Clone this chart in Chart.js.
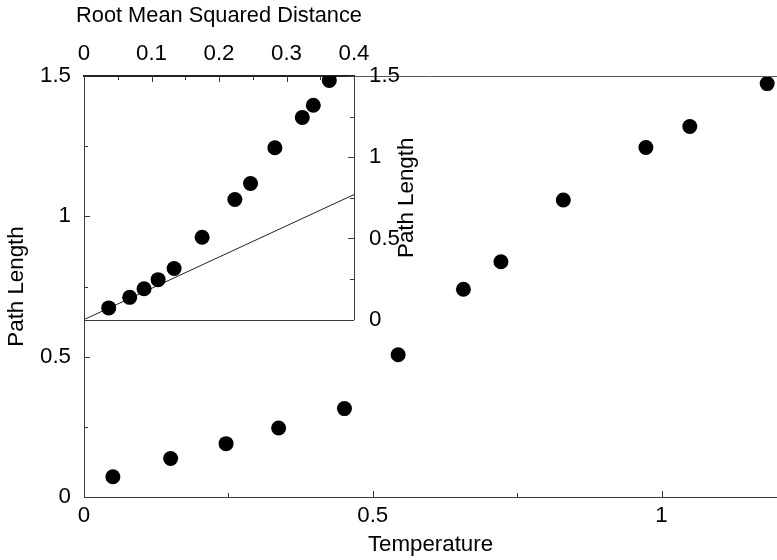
<!DOCTYPE html>
<html><head><meta charset="utf-8">
<script src="https://cdn.jsdelivr.net/npm/chart.js@4.4.1/dist/chart.umd.min.js"></script>
<style>
html,body{margin:0;padding:0;background:#fff;}
#wrap{position:relative;width:777px;height:560px;overflow:hidden;background:#fff;}
#main,#inset{position:absolute;left:0;top:0;}
</style></head><body>
<div id="wrap"><canvas id="main" width="777" height="560"></canvas><canvas id="inset" width="440" height="348"></canvas></div>
<script>
// ---- data ----
const temperature = [0.050, 0.150, 0.246, 0.337, 0.451, 0.544, 0.657, 0.722, 0.830, 0.973, 1.049, 1.183];
const pathLength  = [0.072, 0.137, 0.190, 0.246, 0.315, 0.507, 0.740, 0.838, 1.058, 1.245, 1.320, 1.473];
const rmsd        = [0.0366, 0.0677, 0.089, 0.1098, 0.1335, 0.175, 0.2235, 0.2467, 0.2828, 0.3234, 0.3397, 0.3634];
const fitX = [0, 0.4];
const fitY = [0, 0.77];
// ---- ticks ----
const mainXTicks = [0, 0.5, 1];
const mainXLabels = ['0', '0.5', '1'];
const mainXMinor = [0.25, 0.75];
const mainYTicks = [0, 0.5, 1, 1.5];
const mainYLabels = ['0', '0.5', '1', '1.5'];
const mainYMinor = [0.25, 0.75, 1.25];
const insetXTicks = [0, 0.1, 0.2, 0.3, 0.4];
const insetXLabels = ['0', '0.1', '0.2', '0.3', '0.4'];
const insetXMinor = [0.05, 0.15, 0.25, 0.35];
const insetYTicks = [0, 0.5, 1, 1.5];
const insetYLabels = ['0', '0.5', '1', '1.5'];
const insetYMinor = [0.25, 0.75, 1.25];

const FAMILY = "'Liberation Sans', Arial, sans-serif";
const FONT = {family: FAMILY, size: 22.3};
const TITLE_SIZE = 21.8;
const AX = '#3a3a3a';

function fixTicks(list){ return function(scale){ scale.ticks = list.map(v => ({value: v})); }; }

function tickMarks(spec){
  return {
    id: 'inTicks',
    afterDraw(chart){
      const ctx = chart.ctx;
      ctx.save();
      ctx.strokeStyle = AX; ctx.lineWidth = 1;
      for (const id in spec){
        const s = chart.scales[id]; const sp = spec[id];
        const draw = (v, len) => {
          ctx.beginPath();
          const p = Math.round(s.getPixelForValue(v)) + 0.5;
          if (sp.side === 'bottom'){ ctx.moveTo(p, s.top); ctx.lineTo(p, s.top - len); }
          else if (sp.side === 'top'){ ctx.moveTo(p, s.bottom); ctx.lineTo(p, s.bottom + len); }
          else if (sp.side === 'left'){ ctx.moveTo(s.right, p); ctx.lineTo(s.right + len, p); }
          else { ctx.moveTo(s.left, p); ctx.lineTo(s.left - len, p); }
          ctx.stroke();
        };
        sp.major.forEach(v => draw(v, 6));
        sp.minor.forEach(v => draw(v, 4));
      }
      ctx.restore();
    }
  };
}

const topBorder = {
  id: 'topBorder',
  afterDraw(chart){
    const ctx = chart.ctx, a = chart.chartArea;
    ctx.save(); ctx.strokeStyle = '#555'; ctx.lineWidth = 1;
    ctx.beginPath(); ctx.moveTo(a.left, Math.round(a.top) + 0.5); ctx.lineTo(chart.width, Math.round(a.top) + 0.5); ctx.stroke();
    ctx.restore();
  }
};

new Chart(document.getElementById('main'), {
  type: 'scatter',
  data: {datasets: [{
    data: temperature.map((t, i) => ({x: t, y: pathLength[i]})),
    backgroundColor: '#000', borderWidth: 0, pointRadius: 7.5, pointHoverRadius: 7.5
  }]},
  options: {
    responsive: false, animation: false, events: [],
    layout: {padding: {top: 76, left: 0, right: 0, bottom: 0}, autoPadding: false},
    plugins: {legend: {display: false}, tooltip: {enabled: false}},
    scales: {
      x: {
        type: 'linear', position: 'bottom', min: 0, max: 1.2,
        afterBuildTicks: fixTicks(mainXTicks), afterFit: s => { s.height = 63; },
        grid: {display: true, drawOnChartArea: false, drawTicks: false},
        border: {display: true, color: AX, width: 1},
        ticks: {color: '#000', font: FONT, padding: 5, maxRotation: 0, autoSkip: false, callback: (v, i) => mainXLabels[i]},
        title: {display: true, text: 'Temperature', color: '#000', font: FONT, padding: {top: 0, bottom: 2}}
      },
      y: {
        type: 'linear', position: 'left', min: 0, max: 1.5,
        afterBuildTicks: fixTicks(mainYTicks), afterFit: s => { s.width = 84; },
        grid: {display: true, drawOnChartArea: false, drawTicks: false},
        border: {display: true, color: AX, width: 1},
        ticks: {color: '#000', font: FONT, padding: 13, autoSkip: false, callback: (v, i) => mainYLabels[i]},
        title: {display: true, text: 'Path Length', color: '#000', font: FONT, padding: {top: 3, bottom: 0}}
      }
    }
  },
  plugins: [tickMarks({x: {side: 'bottom', major: mainXTicks, minor: mainXMinor}, y: {side: 'left', major: mainYTicks, minor: mainYMinor}}), topBorder]
});

const insetFrame = {
  id: 'insetFrame',
  afterDraw(chart){
    const ctx = chart.ctx, a = chart.chartArea;
    ctx.save(); ctx.strokeStyle = AX; ctx.lineWidth = 1;
    ctx.beginPath();
    ctx.moveTo(Math.round(a.left) + 0.5, a.top); ctx.lineTo(Math.round(a.left) + 0.5, Math.round(a.bottom) + 0.5);
    ctx.lineTo(a.right, Math.round(a.bottom) + 0.5);
    ctx.stroke();
    ctx.fillStyle = '#000';
    ctx.textAlign = 'center'; ctx.textBaseline = 'middle';
    // top axis title (not limited to the axis width)
    ctx.font = TITLE_SIZE + 'px ' + FAMILY;
    ctx.fillText('Root Mean Squared Distance', (a.left + a.right) / 2, 16);
    // right axis title, reading bottom-to-top
    ctx.font = FONT.size + 'px ' + FAMILY;
    ctx.translate(407, (a.top + a.bottom) / 2);
    ctx.rotate(-Math.PI / 2);
    ctx.fillText('Path Length', 0, 0);
    ctx.restore();
  }
};

new Chart(document.getElementById('inset'), {
  type: 'scatter',
  data: {datasets: [
    {
      data: rmsd.map((r, i) => ({x: r, y: pathLength[i]})),
      backgroundColor: '#000', borderWidth: 0, pointRadius: 7.5, pointHoverRadius: 7.5
    },
    {
      type: 'line',
      data: fitX.map((x, i) => ({x: x, y: fitY[i]})),
      borderColor: '#222', borderWidth: 1, pointRadius: 0, fill: false, tension: 0
    }
  ]},
  options: {
    responsive: false, animation: false, events: [],
    layout: {padding: {top: 0, left: 84, right: 0, bottom: 11}, autoPadding: false},
    plugins: {legend: {display: false}, tooltip: {enabled: false}},
    scales: {
      x: {
        type: 'linear', position: 'top', min: 0, max: 0.4,
        afterBuildTicks: fixTicks(insetXTicks), afterFit: s => { s.height = 76; },
        grid: {display: true, drawOnChartArea: false, drawTicks: false},
        border: {display: true, color: '#222', width: 2},
        ticks: {color: '#000', font: FONT, padding: 9, maxRotation: 0, autoSkip: false, callback: (v, i) => insetXLabels[i]},
        title: {display: false}
      },
      y: {
        type: 'linear', position: 'right', min: 0, max: 1.5,
        afterBuildTicks: fixTicks(insetYTicks), afterFit: s => { s.width = 86; },
        grid: {display: true, drawOnChartArea: false, drawTicks: false},
        border: {display: true, color: AX, width: 1},
        ticks: {color: '#000', font: FONT, padding: 15, autoSkip: false, callback: (v, i) => insetYLabels[i]},
        title: {display: false}
      }
    }
  },
  plugins: [tickMarks({x: {side: 'top', major: insetXTicks, minor: insetXMinor}, y: {side: 'right', major: insetYTicks, minor: insetYMinor}}), insetFrame]
});
</script>
</body></html>
